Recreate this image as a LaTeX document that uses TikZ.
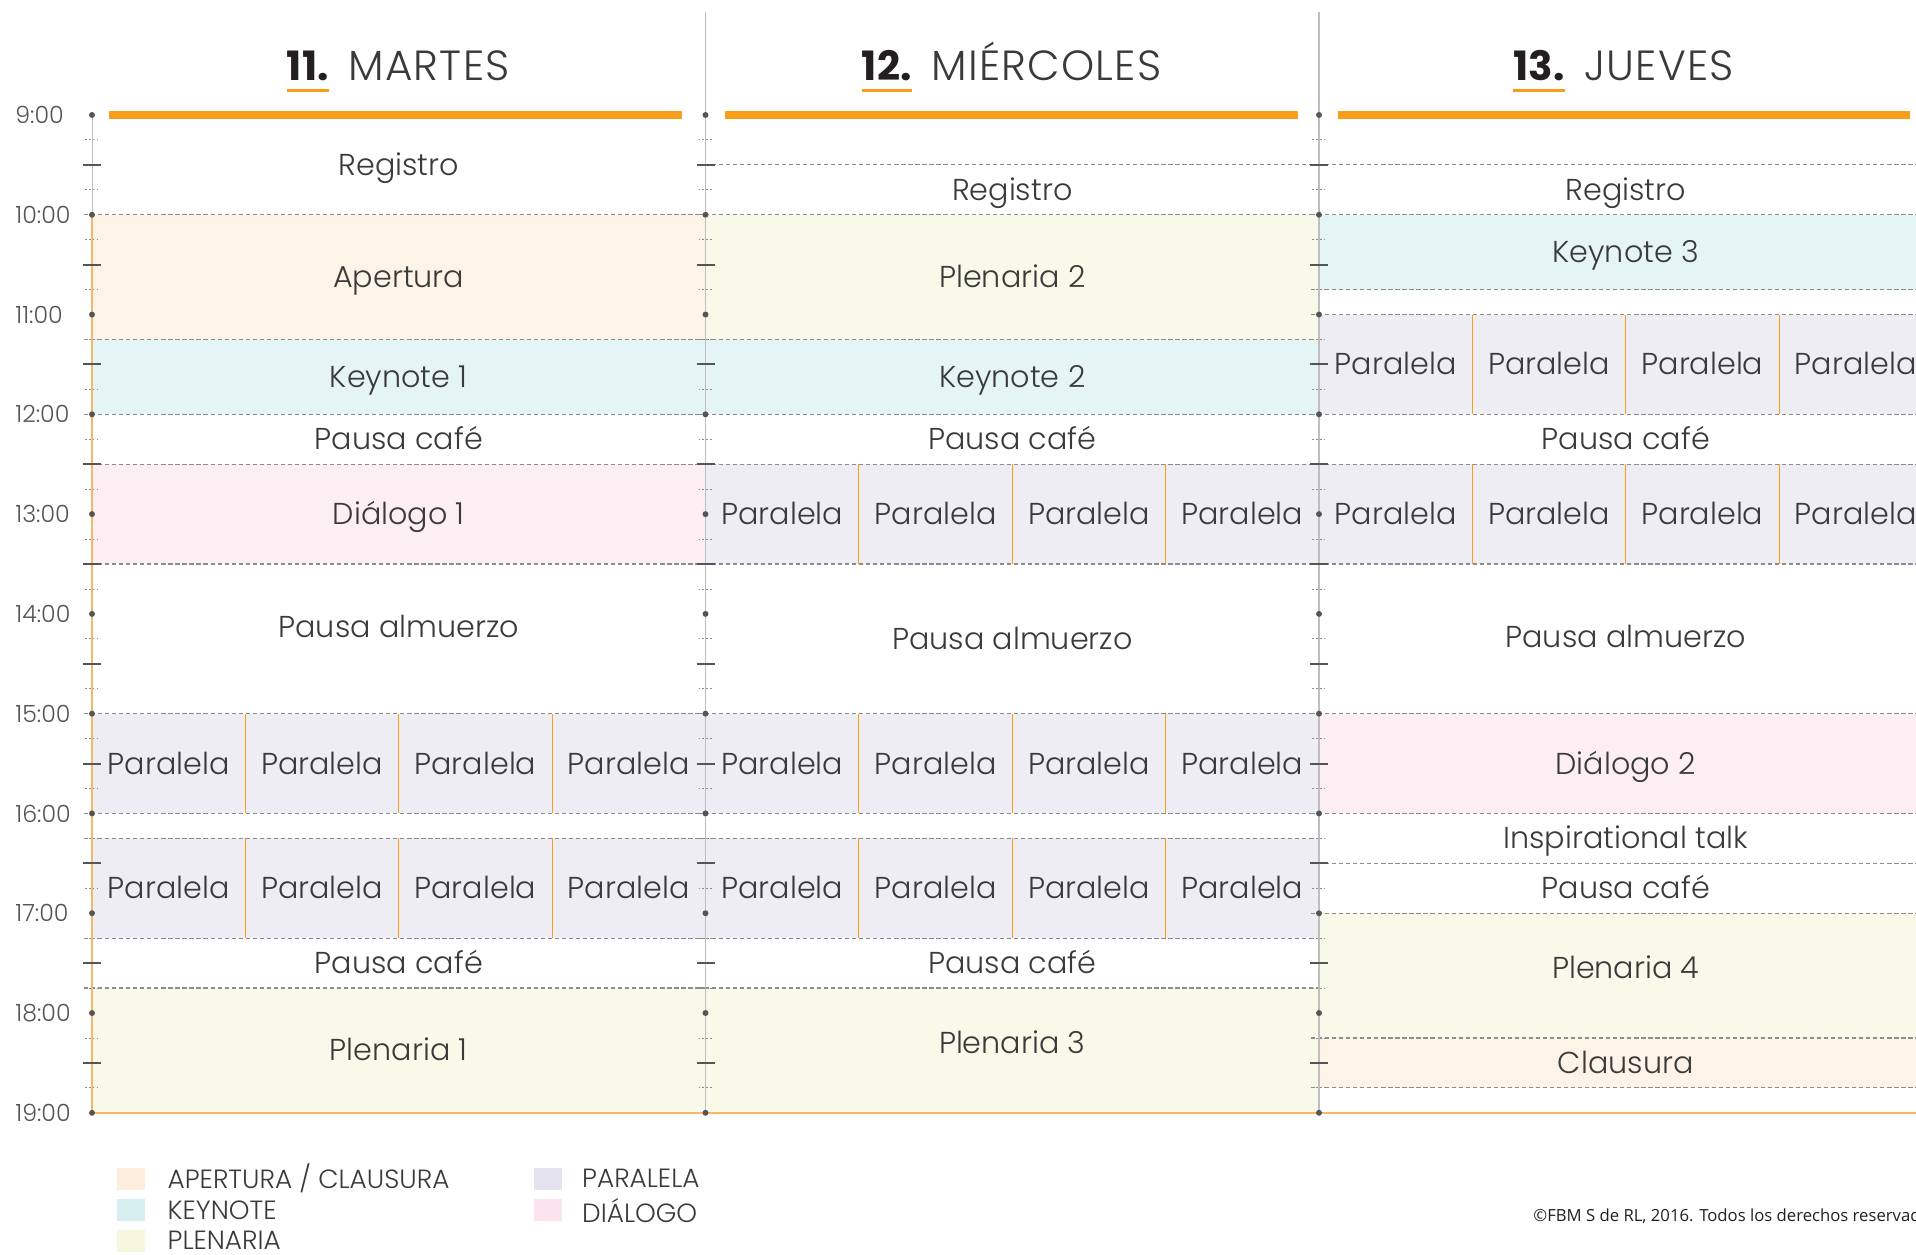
\documentclass[tikz,border=0pt]{standalone}
\usepackage{fontspec}
\IfFontExistsTF{Poppins Light}{\setmainfont{Poppins Light}\newfontfamily\dayfont{Poppins Light}[LetterSpace=3]}{\setmainfont{Poppins}\newfontfamily\dayfont{Poppins}[LetterSpace=3]}
\IfFontExistsTF{Poppins Bold}{\newfontfamily\numfont{Poppins Bold}}{\newfontfamily\numfont{Poppins}[FakeBold=1.5]}
\newfontfamily\notefont{Open Sans}
\usetikzlibrary{positioning}
\definecolor{barorange}{RGB}{248,158,27}
\definecolor{lineorange}{RGB}{246,183,102}
\definecolor{inkgray}{RGB}{58,58,58}
\definecolor{numblack}{RGB}{35,31,32}
\definecolor{tickgray}{RGB}{85,85,85}
\definecolor{dashgray}{RGB}{140,140,140}
\definecolor{axisgray}{RGB}{190,190,190}
\definecolor{aperturafill}{RGB}{253,243,230}
\definecolor{keynotefill}{RGB}{229,245,245}
\definecolor{plenariafill}{RGB}{248,249,233}
\definecolor{paralelafill}{RGB}{239,237,244}
\definecolor{dialogofill}{RGB}{253,238,243}
\definecolor{aperturakey}{RGB}{253,237,220}
\definecolor{keynotekey}{RGB}{214,238,240}
\definecolor{plenariakey}{RGB}{246,247,222}
\definecolor{paralelakey}{RGB}{229,226,239}
\definecolor{dialogokey}{RGB}{252,228,238}
\begin{document}
\begin{tikzpicture}[x=0.02cm, y=-1.996cm,
  lbl/.style={font=\fontsize{17.2}{20}\selectfont, text=inkgray, inner sep=0pt, text height=12pt, text depth=0pt},
  sep/.style={dashgray, line width=0.7pt, dash pattern=on 2.4pt off 1.6pt},
  divider/.style={barorange, line width=0.6pt},
  halftick/.style={tickgray, line width=1.1pt},
  qtick/.style={dashgray, line width=0.5pt, dash pattern=on 1pt off 1.2pt},
  timelbl/.style={font=\fontsize{13.5}{15}\selectfont, text=tickgray, anchor=west, inner sep=0pt},
  daynum/.style={font=\numfont\fontsize{23}{26}\selectfont, text=numblack, inner sep=0pt, anchor=base east},
  dayname/.style={font=\dayfont\fontsize{24}{28}\selectfont, text=inkgray, inner sep=0pt},
  uline/.style={barorange, line width=1.7pt},
  daybar/.style={barorange, line width=4.5pt},
  legsq/.style={minimum width=0.56cm, minimum height=0.44cm, inner sep=0pt},
  legtxt/.style={font=\fontsize{15}{17}\selectfont, text=inkgray, inner sep=0pt}]
\useasboundingbox (0,7.8477) rectangle (1916,20.4228);
\clip (0,7.8477) rectangle (1916,20.4228);

% blocks, martes
\fill[aperturafill] (92,10) rectangle (705.5,11.25);
\fill[keynotefill] (92,11.25) rectangle (705.5,12);
\fill[dialogofill] (92,12.5) rectangle (705.5,13.5);
\fill[paralelafill] (92,15) rectangle (705.5,16);
\fill[paralelafill] (92,16.25) rectangle (705.5,17.25);
\fill[plenariafill] (92,17.75) rectangle (705.5,19);
% blocks, miercoles
\fill[plenariafill] (705.5,10) rectangle (1319,11.25);
\fill[keynotefill] (705.5,11.25) rectangle (1319,12);
\fill[paralelafill] (705.5,12.5) rectangle (1319,13.5);
\fill[paralelafill] (705.5,15) rectangle (1319,16);
\fill[paralelafill] (705.5,16.25) rectangle (1319,17.25);
\fill[plenariafill] (705.5,17.75) rectangle (1319,19);
% blocks, jueves
\fill[keynotefill] (1319,10) rectangle (1932,10.75);
\fill[paralelafill] (1319,11) rectangle (1932,12);
\fill[paralelafill] (1319,12.5) rectangle (1932,13.5);
\fill[dialogofill] (1319,15) rectangle (1932,16);
\fill[plenariafill] (1319,17) rectangle (1932,18.25);
\fill[aperturafill] (1319,18.25) rectangle (1932,18.75);

% dashed separators
\foreach \h in {10,11.25,12,12.5,13.5,15,16,16.25,17.25,17.75}
  \draw[sep] (84,\h) -- (705.5,\h);
\foreach \h in {9.5,10,11.25,12,12.5,13.5,15,16,16.25,17.25,17.75}
  \draw[sep] (697.5,\h) -- (1319,\h);
\foreach \h in {9.5,10,10.75,11,12,12.5,13.5,15,16,16.5,17,18.25,18.75}
  \draw[sep] (1311,\h) -- (1932,\h);

% axes
\draw[axisgray, line width=0.4pt] (92,9) -- (92,10);
\draw[lineorange, line width=0.8pt] (92,10) -- (92,19);
\draw[axisgray, line width=0.7pt] (705.5,7.968) -- (705.5,19);
\draw[axisgray, line width=0.7pt] (1319,7.968) -- (1319,19);
\draw[lineorange, line width=1.1pt] (92,19) -- (1932,19);
\foreach \ax in {92,705.5,1319} {
  \foreach \h in {9,...,19}
    \fill[tickgray] (\ax,\h) circle (1.7pt);
  \foreach \h in {9.5,10.5,...,18.5}
    \draw[halftick] (\ax-9,\h) -- (\ax+9,\h);
  \foreach \h in {9.25,9.75,...,18.75}
    \draw[qtick] (\ax-7,\h) -- (\ax+7,\h);
}

% hours
\foreach \h in {9,...,19}
  \node[timelbl] (t\h) at (15,\h) {\h:00};

% day headers
\draw[daybar] (109,9) -- (682,9);
\draw[daybar] (725,9) -- (1298,9);
\draw[daybar] (1338,9) -- (1910,9);
\node[daynum] (n11) at (329,8.659) {11.};
\node[dayname, base right=0.38cm of n11] (martes) {MARTES};
\node[daynum] (n12) at (912,8.659) {12.};
\node[dayname, base right=0.38cm of n12] (miercoles) {MIÉRCOLES};
\node[daynum] (n13) at (1565,8.659) {13.};
\node[dayname, base right=0.38cm of n13] (jueves) {JUEVES};
\draw[uline] ([yshift=-5pt]n11.south west) -- ([yshift=-5pt]n11.south east);
\draw[uline] ([yshift=-5pt]n12.south west) -- ([yshift=-5pt]n12.south east);
\draw[uline] ([yshift=-5pt]n13.south west) -- ([yshift=-5pt]n13.south east);

% paralela sessions
\foreach \x/\y/\s in {92/15/a, 92/16.25/b, 705.5/12.5/c, 705.5/15/d, 705.5/16.25/e, 1319/11/f, 1319/12.5/g} {
  \foreach \k in {1,2,3}
    \draw[divider] (\x+\k*153.375,\y) -- (\x+\k*153.375,\y+1);
  \foreach \k in {0,...,3}
    \node[lbl] (par\s\k) at (\x+\k*153.375+76.7,\y+0.5) {Paralela};
}

% martes
\node[lbl] (reg1) at (398.75,9.5) {Registro};
\node[lbl] (ape) at (398.75,10.625) {Apertura};
\node[lbl] (key1) at (398.75,11.625) {Keynote 1};
\node[lbl] (cafe1a) at (398.75,12.25) {Pausa café};
\node[lbl] (dia1) at (398.75,13) {Diálogo 1};
\node[lbl] (alm1) at (398.75,14.13) {Pausa almuerzo};
\node[lbl] (cafe1b) at (398.75,17.5) {Pausa café};
\node[lbl] (ple1) at (398.75,18.375) {Plenaria 1};
% miercoles
\node[lbl] (reg2) at (1012.25,9.75) {Registro};
\node[lbl] (ple2) at (1012.25,10.625) {Plenaria 2};
\node[lbl] (key2) at (1012.25,11.625) {Keynote 2};
\node[lbl] (cafe2a) at (1012.25,12.25) {Pausa café};
\node[lbl] (alm2) at (1012.25,14.25) {Pausa almuerzo};
\node[lbl] (cafe2b) at (1012.25,17.5) {Pausa café};
\node[lbl] (ple3) at (1012.25,18.3) {Plenaria 3};
% jueves
\node[lbl] (reg3) at (1625.75,9.75) {Registro};
\node[lbl] (key3) at (1625.75,10.375) {Keynote 3};
\node[lbl] (cafe3a) at (1625.75,12.25) {Pausa café};
\node[lbl] (alm3) at (1625.75,14.23) {Pausa almuerzo};
\node[lbl] (dia2) at (1625.75,15.5) {Diálogo 2};
\node[lbl] (insp) at (1625.75,16.25) {Inspirational talk};
\node[lbl] (cafe3b) at (1625.75,16.75) {Pausa café};
\node[lbl] (ple4) at (1625.75,17.55) {Plenaria 4};
\node[lbl] (clau) at (1625.75,18.5) {Clausura};

% legend
\node[legsq, fill=aperturakey] (lg1) at (131,19.66) {};
\node[legsq, fill=keynotekey] (lg2) at (131,19.975) {};
\node[legsq, fill=plenariakey] (lg3) at (131,20.28) {};
\node[legsq, fill=paralelakey] (lg4) at (547.5,19.66) {};
\node[legsq, fill=dialogokey] (lg5) at (547.5,19.975) {};
\node[legtxt, right=0.44cm of lg1] (lt1) {APERTURA / CLAUSURA};
\node[legtxt, right=0.44cm of lg2] (lt2) {KEYNOTE};
\node[legtxt, right=0.44cm of lg3] (lt3) {PLENARIA};
\node[legtxt, right=0.4cm of lg4] (lt4) {PARALELA};
\node[legtxt, right=0.4cm of lg5] (lt5) {DIÁLOGO};

\node[anchor=west, inner sep=0pt, text=numblack, font=\notefont\fontsize{9.5}{11}\selectfont] (copy) at (1533,20.032) {©FBM S de RL, 2016. Todos los derechos reservados.};
\end{tikzpicture}
\end{document}
